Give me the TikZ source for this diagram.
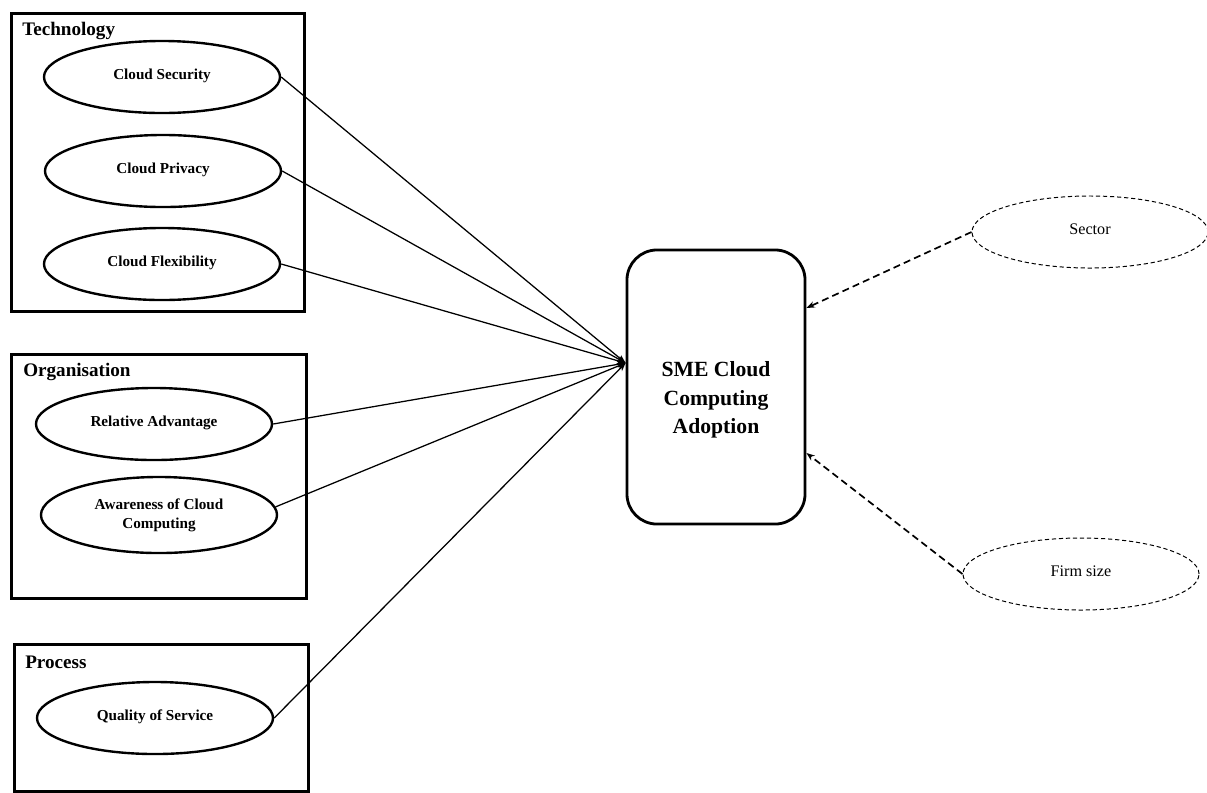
\documentclass[tikz,border=0pt]{standalone}
\usepackage{fontspec}
\setmainfont{Liberation Serif}
\usetikzlibrary{shapes.geometric,calc,arrows.meta}

\begin{document}
\begin{tikzpicture}[>={Stealth[length=6pt,width=4.5pt]}, x=0.025cm, y=-0.025cm]
        \tikzset{group/.style={draw, line width=2pt, inner sep=0, anchor=north west},
                 grouptitle/.style={anchor=west, inner sep=0, font=\fontsize{13.6}{16}\selectfont\bfseries},
                 factor/.style={draw, ellipse, line width=1.7pt, minimum width=5.9cm, minimum height=1.8cm, inner sep=0, text depth=0.45em, align=center, font=\fontsize{10.8}{13.2}\selectfont\bfseries},
                 moderator/.style={draw, ellipse, dash pattern=on 3pt off 2pt, line width=0.7pt, minimum width=5.9cm, minimum height=1.8cm, inner sep=0, text depth=0.45em, font=\fontsize{11.5}{14}\selectfont},
                 link/.style={->, line width=0.9pt},
                 modlink/.style={->, dash pattern=on 5pt off 3pt, line width=1.2pt}}
        \useasboundingbox (0,0) rectangle (1207,792);
        \node[group, minimum width=7.325cm, minimum height=7.45cm] (techbox) at (10,12) {};
        \node[group, minimum width=7.375cm, minimum height=6.1cm] (orgbox) at (10,353) {};
        \node[group, minimum width=7.35cm, minimum height=3.675cm] (procbox) at (13,643) {};
        \node[grouptitle] (techtitle) at (22,31) {Technology};
        \node[grouptitle] (orgtitle) at (23,372) {Organisation};
        \node[grouptitle] (proctitle) at (25,662) {Process};
        \node[factor] (security) at (162,77) {Cloud Security};
        \node[factor] (privacy) at (163,171) {Cloud Privacy};
        \node[factor] (flexibility) at (162,264) {Cloud Flexibility};
        \node[factor] (advantage) at (154,424) {Relative Advantage};
        \node[factor, minimum height=1.9cm, text depth=0.2em] (awareness) at (159,515) {Awareness of Cloud\\Computing};
        \node[factor] (quality) at (155,718) {Quality of Service};
        \node[draw, line width=2pt, rounded corners=0.75cm, minimum width=4.45cm, minimum height=6.85cm, inner sep=0,
              label={[yshift=-0.32cm, align=center, font=\fontsize{15.4}{20}\selectfont\bfseries]center:SME Cloud\\Computing\\Adoption}] (sme) at (716,387) {};
        \node[moderator] (sector) at (1090,232) {Sector};
        \node[moderator] (firmsize) at (1081,574) {Firm size};
        \coordinate (hub) at ($(sme.west)+(0,-24)$);
        \coordinate (sectorin) at ($(sme.east)+(0,-79)$);
        \coordinate (firmin) at ($(sme.east)+(0,66)$);
        \draw[link] (security.east) -- (hub);
        \draw[link] (privacy.east) -- (hub);
        \draw[link] (flexibility.east) -- (hub);
        \draw[link] (advantage.east) -- (hub);
        \draw[link] (awareness.4) -- (hub);
        \draw[link] (quality.east) -- (hub);
        \draw[modlink] (sector.west) -- (sectorin);
        \draw[modlink] (firmsize.west) -- (firmin);
\end{tikzpicture}
\end{document}
